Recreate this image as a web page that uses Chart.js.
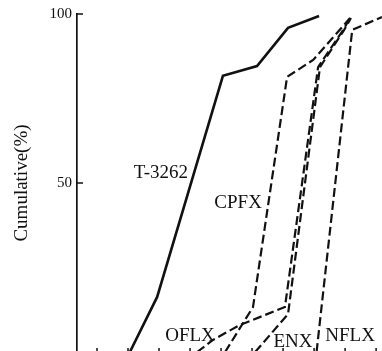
<!DOCTYPE html>
<html>
  <head>
    <meta charset="utf-8" />
    <title>Cumulative curves</title>
    <script src="https://cdn.jsdelivr.net/npm/chart.js@4"></script>
    <style>
      html, body { margin: 0; padding: 0; overflow: hidden; background: #fff; }
    </style>
  </head>
  <body>
    <canvas id="myChart" width="382" height="366"></canvas>
    <script>
      // values (x in tick units, y in %)
      const seriesNames = ["T-3262", "CPFX", "OFLX", "ENX", "NFLX"];
      const t3262X = [2.06, 2.94, 5.06, 6.16, 7.16, 8.16];
      const t3262Y = [0, 16.3, 81.7, 84.6, 95.9, 99.4];
      const cpfxX = [5.13, 6.03, 7.13, 7.97, 9.16];
      const cpfxY = [0, 13.3, 81.4, 86.4, 98.8];
      const oflxX = [4.23, 4.74, 5.61, 7.06, 8.13, 8.94, 9.16];
      const oflxY = [0, 3.6, 8.0, 13.3, 84.3, 95.3, 98.8];
      const enxX = [6.1, 7.16, 8.19, 8.97, 9.19];
      const enxY = [0, 11.2, 84.3, 95.3, 98.8];
      const nflxX = [8.08, 9.23, 10.19];
      const nflxY = [0, 95.3, 99.1];
      const labelX = [3.06, 5.55, 4.0, 7.32, 9.16];
      const labelY = [53.0, 44.1, 4.7, 3.0, 4.7];
      const yTicks = [50, 100];
      const xTicks = [1, 2, 3, 4, 5, 6, 7, 8, 9, 10];

      const toPoints = (xs, ys) => xs.map((x, i) => ({ x: x, y: ys[i] }));
      const allX = [t3262X, cpfxX, oflxX, enxX, nflxX];
      const allY = [t3262Y, cpfxY, oflxY, enxY, nflxY];

      const datasets = seriesNames.map((name, i) => {
        return {
          label: name,
          data: toPoints(allX[i], allY[i]),
          borderColor: "#111",
          borderWidth: i === 0 ? 2.6 : 2.2,
          borderDash: i === 0 ? [] : [9, 4],
          pointRadius: 0,
          tension: 0,
        };
      });

      // tick marks pointing into the plot, like the original
      const innerTicks = {
        id: "innerTicks",
        afterDraw(chart) {
          const { ctx, chartArea } = chart;
          const x = chart.scales.x;
          const y = chart.scales.y;
          ctx.save();
          ctx.strokeStyle = "#111";
          ctx.lineWidth = 1.5;
          y.ticks.forEach((t, i) => {
            const py = y.getPixelForTick(i);
            ctx.beginPath();
            ctx.moveTo(chartArea.left, py);
            ctx.lineTo(chartArea.left + 6, py);
            ctx.stroke();
          });
          x.ticks.forEach((t, i) => {
            const px = x.getPixelForTick(i);
            ctx.beginPath();
            ctx.moveTo(px, chartArea.bottom);
            ctx.lineTo(px, chartArea.bottom - 4);
            ctx.stroke();
          });
          ctx.restore();
        },
      };

      const curveLabels = {
        id: "curveLabels",
        afterDraw(chart) {
          const { ctx } = chart;
          ctx.save();
          ctx.fillStyle = "#111";
          ctx.font = '19px "Liberation Serif"';
          ctx.textAlign = "center";
          ctx.textBaseline = "middle";
          seriesNames.forEach((name, i) => {
            ctx.fillText(
              name,
              chart.scales.x.getPixelForValue(labelX[i]),
              chart.scales.y.getPixelForValue(labelY[i])
            );
          });
          ctx.restore();
        },
      };

      const config = {
        type: "line",
        data: { datasets: datasets },
        options: {
          responsive: false,
          animation: false,
          layout: { padding: { top: 14, right: 0, bottom: 4, left: 0 } },
          plugins: {
            legend: { display: false },
            tooltip: { enabled: false },
          },
          scales: {
            x: {
              type: "linear",
              min: 0.355,
              max: 10.19,
              grid: { display: false, drawTicks: false },
              border: { display: false },
              ticks: { display: false },
              afterBuildTicks: (s) => {
                s.ticks = xTicks.map((v) => ({ value: v }));
              },
              afterFit: (s) => {
                s.height = 0;
              },
            },
            y: {
              min: 0,
              max: 100,
              grid: { display: false, drawTicks: false },
              border: { display: true, color: "#111", width: 1.7 },
              ticks: {
                color: "#111",
                padding: 5,
                font: { family: "Liberation Serif", size: 15 },
              },
              afterBuildTicks: (s) => {
                s.ticks = yTicks.map((v) => ({ value: v }));
              },
              title: {
                display: true,
                text: "Cumulative(%)",
                color: "#111",
                padding: { top: 11, bottom: 0 },
                font: { family: "Liberation Serif", size: 19 },
              },
              afterFit: (s) => {
                s.width = 77;
              },
            },
          },
        },
        plugins: [innerTicks, curveLabels],
      };

      const ctx = document.getElementById("myChart");
      const myChart = new Chart(ctx, config);
    </script>
  </body>
</html>
